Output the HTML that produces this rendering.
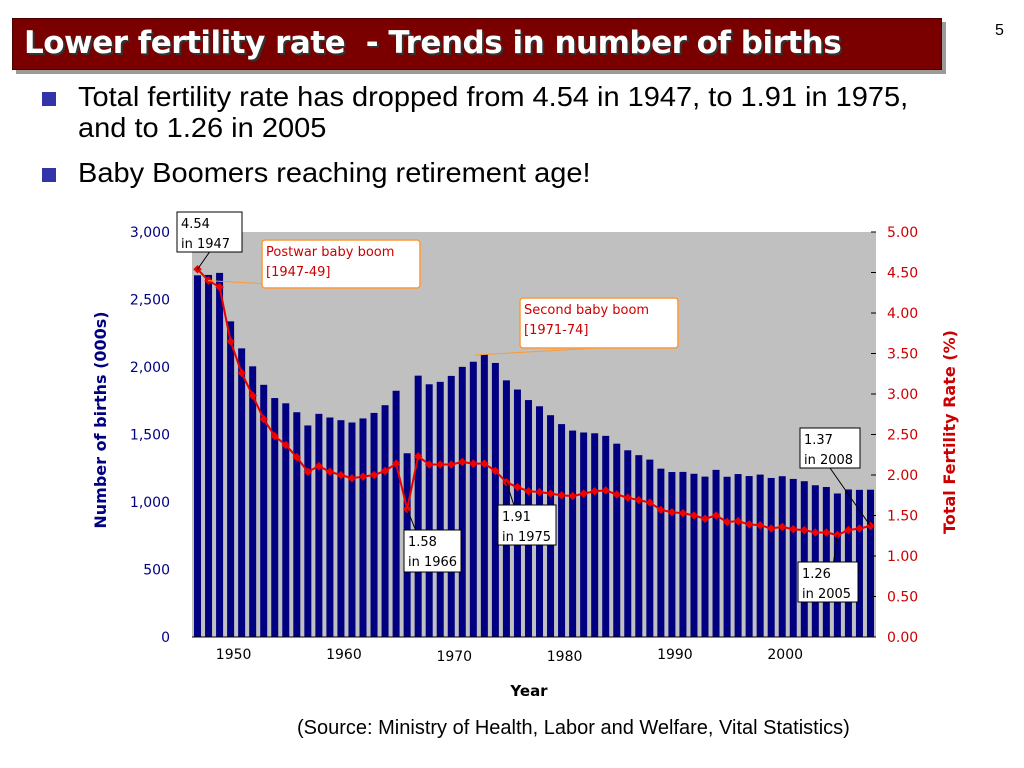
<!DOCTYPE html>
<html><head><meta charset="utf-8"><style>
body{margin:0;width:1024px;height:768px;background:#fff;font-family:"Liberation Sans",sans-serif;overflow:hidden;position:relative}
</style></head><body>
<div style="position:absolute;left:16px;top:22px;width:930px;height:52px;background:#9a9a9a"></div>
<div style="position:absolute;left:12px;top:18px;width:930px;height:52px;background:#7a0000;border:1px solid #4a0000;box-sizing:border-box"></div>
<div style="position:absolute;left:24px;top:25px;color:#fff;font:bold 31px 'DejaVu Sans',sans-serif;letter-spacing:-0.5px;text-shadow:2px 2px 0 #333">Lower fertility rate&nbsp; - Trends in number of births</div>
<div style="position:absolute;left:995px;top:22px;font-size:16px">5</div>
<div style="position:absolute;left:42px;top:92px;width:14px;height:14px;background:#3333aa"></div>
<div style="position:absolute;left:78px;top:82px;font-size:29px;line-height:33px;transform:scaleY(0.95);transform-origin:top left">Total fertility rate has dropped from 4.54 in 1947, to 1.91 in 1975,<br>and to 1.26 in 2005</div>
<div style="position:absolute;left:42px;top:168px;width:14px;height:14px;background:#3333aa"></div>
<div style="position:absolute;left:78px;top:158px;font-size:29px;line-height:33px;transform:scaleY(0.95);transform-origin:top left">Baby Boomers reaching retirement age!</div>
<svg id="chart" width="1024" height="768" style="position:absolute;left:0;top:0" font-family="DejaVu Sans, sans-serif"></svg>
<div style="position:absolute;left:297px;top:717px;font-size:20px">(Source: Ministry of Health, Labor and Welfare, Vital Statistics)</div>
<script>
const years=[1947,1948,1949,1950,1951,1952,1953,1954,1955,1956,1957,1958,1959,1960,1961,1962,1963,1964,1965,1966,1967,1968,1969,1970,1971,1972,1973,1974,1975,1976,1977,1978,1979,1980,1981,1982,1983,1984,1985,1986,1987,1988,1989,1990,1991,1992,1993,1994,1995,1996,1997,1998,1999,2000,2001,2002,2003,2004,2005,2006,2007,2008];
const births=[2679,2682,2697,2338,2138,2005,1868,1770,1731,1665,1567,1653,1626,1606,1589,1619,1660,1717,1824,1361,1936,1872,1890,1934,2001,2039,2092,2030,1901,1833,1755,1709,1643,1577,1529,1515,1509,1490,1432,1383,1347,1314,1247,1222,1223,1209,1188,1238,1187,1207,1192,1203,1178,1191,1171,1154,1124,1111,1063,1093,1090,1091];
const tfr=[4.54,4.40,4.32,3.65,3.26,2.98,2.69,2.48,2.37,2.22,2.04,2.11,2.04,2.00,1.96,1.98,2.00,2.05,2.14,1.58,2.23,2.13,2.13,2.13,2.16,2.14,2.14,2.05,1.91,1.85,1.80,1.79,1.77,1.75,1.74,1.77,1.80,1.81,1.76,1.72,1.69,1.66,1.57,1.54,1.53,1.50,1.46,1.50,1.42,1.43,1.39,1.38,1.34,1.36,1.33,1.32,1.29,1.29,1.26,1.32,1.34,1.37];
const leftTicks=[0,500,1000,1500,2000,2500,3000];
const rightTicks=[0,0.5,1,1.5,2,2.5,3,3.5,4,4.5,5];
const xLabels=[1950,1960,1970,1980,1990,2000];
const svg=document.getElementById('chart');const NS='http://www.w3.org/2000/svg';
function mk(t,a,txt){const e=document.createElementNS(NS,t);for(const k in a)e.setAttribute(k,a[k]);if(txt!=null)e.textContent=txt;svg.appendChild(e);return e;}
const X0=192,X1=876,Y0=637,Y1=232;
const step=(X1-X0)/years.length;
const xs=y=>X0+(y-years[0]+0.5)*step;
const yl=v=>Y0-(v/3000)*(Y0-Y1);
const yr=v=>Y0-(v/5)*(Y0-Y1);
let e=mk('rect',{x:X0,y:Y1,width:X1-X0,height:Y0-Y1,fill:'#c0c0c0'});

years.forEach((y,i)=>{const b=mk('rect',{x:xs(y)-3.5,y:yl(births[i]),width:7,height:Y0-yl(births[i]),fill:'#000080'});
});
mk('line',{x1:X0,y1:Y0,x2:X1,y2:Y0,stroke:'#000'});
leftTicks.forEach(t=>{const l=mk('text',{x:170,y:yl(t)+5,'text-anchor':'end','font-size':14,fill:'#000080'},t.toLocaleString('en-US'));
});
rightTicks.forEach(t=>{mk('line',{x1:X1-5,y1:yr(t),x2:X1,y2:yr(t),stroke:'#000'});
const l=mk('text',{x:887,y:yr(t)+5,'font-size':14,fill:'#cc0000'},t.toFixed(2));
});
xLabels.forEach((y,i)=>{const l=mk('text',{x:xs(y)+3,y:(y===1970||y===1980)?661:659,'text-anchor':'middle','font-size':14},y);
});
const pts=years.map((y,i)=>xs(y)+','+yr(tfr[i])).join(' ');
e=mk('polyline',{points:pts,fill:'none',stroke:'#ee0000','stroke-width':2});

years.forEach((y,i)=>{const c=mk('rect',{x:xs(y)-3,y:yr(tfr[i])-3,width:6,height:6,fill:'#ee0000',transform:`rotate(45 ${xs(y)} ${yr(tfr[i])})`});
});
e=mk('text',{x:106,y:420,'text-anchor':'middle','font-size':16,'font-weight':'bold',fill:'#000080',transform:'rotate(-90 106 420)'},'Number of births (000s)');

e=mk('text',{x:955,y:432,'text-anchor':'middle','font-size':16,'font-weight':'bold',fill:'#cc0000',transform:'rotate(-90 955 432)'},'Total Fertility Rate (%)');

e=mk('text',{x:529,y:696,'text-anchor':'middle','font-size':15,'font-weight':'bold'},'Year');

function callout(name,x,y,w,h,lines,px,py,stroke,color){
 mk('line',{x1:px,y1:py,x2:x+w/2,y2:y+h,stroke:stroke,'stroke-width':1});
 const r=mk('rect',{x:x,y:y,width:w,height:h,fill:'#fff',stroke:stroke,'stroke-width':stroke==='#000'?1:1.5,rx:stroke==='#000'?0:3});
 
 lines.forEach((t,i)=>mk('text',{x:x+4,y:y+16+i*20,'font-size':13,fill:color},t));
}
callout('callout-1947',177,212,65,40,['4.54','in 1947'],xs(1947),yr(4.54),'#000','#000');
callout('callout-postwar',262,240,158,48,['Postwar baby boom','[1947-49]'],208,yr(4.40),'#ff9933','#cc0000');
callout('callout-second-boom',520,298,158,50,['Second baby boom','[1971-74]'],475,355,'#ff9933','#cc0000');
callout('callout-1975',498,505,58,40,['1.91','in 1975'],xs(1975),yr(1.91),'#000','#000');
callout('callout-1966',404,530,57,42,['1.58','in 1966'],xs(1966),yr(1.58),'#000','#000');
callout('callout-2008',800,428,60,40,['1.37','in 2008'],xs(2008),yr(1.37),'#000','#000');
callout('callout-2005',798,562,60,40,['1.26','in 2005'],xs(2005),yr(1.26),'#000','#000');
</script>
</body></html>
